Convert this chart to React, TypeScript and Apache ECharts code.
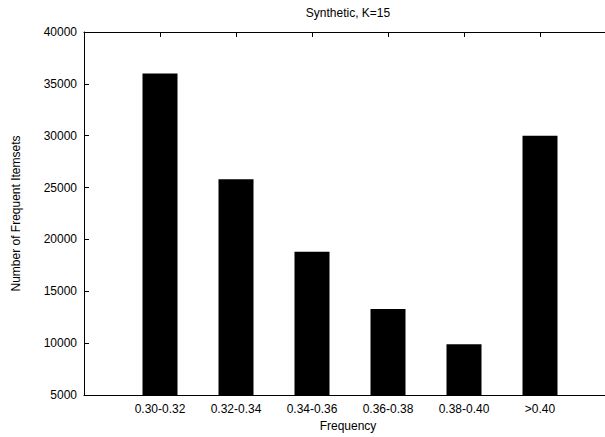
import React, { useEffect, useRef } from "react";
import * as echarts from "echarts";

const categories = ["0.30-0.32", "0.32-0.34", "0.34-0.36", "0.36-0.38", "0.38-0.40", ">0.40"];
const counts = [36000, 25800, 18800, 13300, 9900, 30000];
const yTicks = { min: 5000, max: 40000, interval: 5000 };
const titleText = "Synthetic, K=15";
const xName = "Frequency";
const yName = "Number of Frequent Itemsets";

const FONT = "Liberation Sans, Arial, Helvetica, sans-serif";

export default function App() {
  const ref = useRef<HTMLDivElement>(null);
  useEffect(() => {
    if (!ref.current) return;
    const chart = echarts.init(ref.current, null, { renderer: "svg" });
    const fmt = (v: number) => {
      const r = Math.round(v);
      if (Math.abs(v - r) > 1e-6) return "";
      return categories[r] ?? "";
    };
    const axisCommon = {
      type: "value" as const,
      min: -1,
      max: 6,
      interval: 1,
      axisLine: { show: true, onZero: false, lineStyle: { color: "#000", width: 1 } },
      axisTick: { show: true, inside: true, length: 5, lineStyle: { color: "#000" } },
      splitLine: { show: false },
    };
    chart.setOption({
      animation: false,
      backgroundColor: "#fff",
      grid: { left: 84, width: 532, top: 32, bottom: 42, containLabel: false },
      xAxis: [
        {
          ...axisCommon,
          position: "bottom",
          axisLabel: {
            show: true,
            formatter: fmt,
            color: "#000",
            fontSize: 12,
            fontFamily: FONT,
            margin: 8,
            showMaxLabel: false,
            showMinLabel: false,
          },
        },
        {
          ...axisCommon,
          position: "top",
          axisLabel: { show: false },
        },
      ],
      yAxis: {
        type: "value",
        min: yTicks.min,
        max: yTicks.max,
        interval: yTicks.interval,
        name: yName,
        nameLocation: "middle",
        nameGap: 62,
        nameTextStyle: { color: "#000", fontSize: 12, fontFamily: FONT },
        axisLine: { show: true, onZero: false, lineStyle: { color: "#000", width: 1 } },
        axisTick: { show: true, inside: true, length: 5, lineStyle: { color: "#000" } },
        axisLabel: {
          color: "#000",
          fontSize: 12,
          fontFamily: FONT,
          margin: 7,
          formatter: (v: number) => String(v),
        },
        splitLine: { show: false },
      },
      graphic: [
        {
          type: "text",
          x: 348,
          y: 13,
          style: {
            text: titleText,
            fill: "#000",
            fontSize: 12,
            fontFamily: FONT,
            textAlign: "center",
            textVerticalAlign: "middle",
          },
        },
        {
          type: "text",
          x: 348,
          y: 426,
          style: {
            text: xName,
            fill: "#000",
            fontSize: 12,
            fontFamily: FONT,
            textAlign: "center",
            textVerticalAlign: "middle",
          },
        },
      ],
      series: [
        {
          type: "bar",
          xAxisIndex: 0,
          barWidth: 35,
          data: counts.map((v, i) => [i, v]),
          itemStyle: { color: "#000" },
          clip: true,
        },
      ],
    });
    return () => chart.dispose();
  }, []);
  return (
    <div style={{ position: "absolute", left: 0, top: 0, width: 605, height: 437, overflow: "hidden" }}>
      <div ref={ref} style={{ width: 640, height: 437 }} />
    </div>
  );
}
